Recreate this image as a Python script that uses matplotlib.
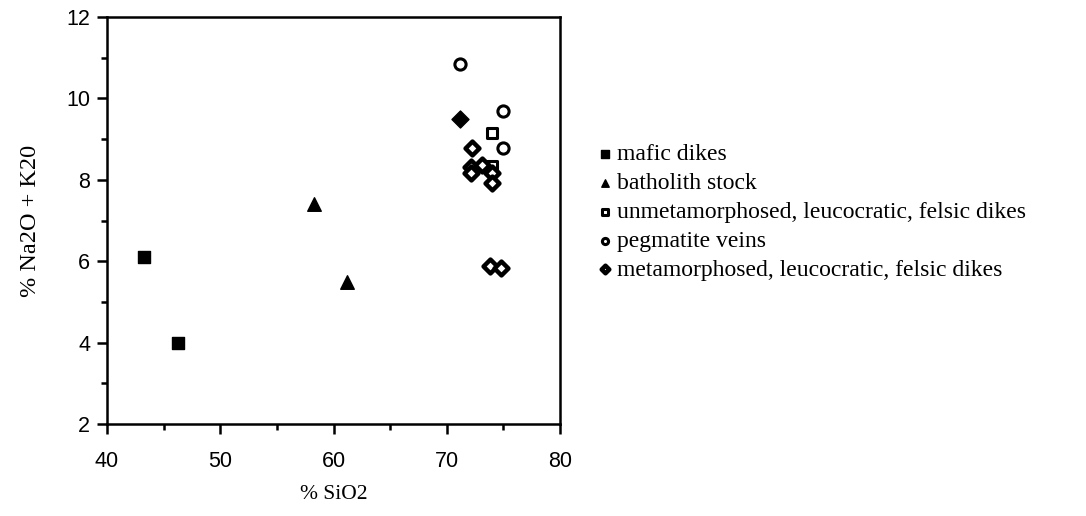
import numpy as np
import matplotlib
matplotlib.use("Agg")
import matplotlib.pyplot as plt
from matplotlib.ticker import MultipleLocator

# SiO2 (%) and Na2O + K2O (%) per rock group
mafic_x = [43.3, 46.3]
mafic_y = [6.1, 4.0]
batho_x = [58.3, 61.2]
batho_y = [7.4, 5.5]
unmeta_x = [74.0, 74.0]
unmeta_y = [9.15, 8.35]
pegma_x = [71.2, 75.0, 75.0]
pegma_y = [10.85, 9.7, 8.78]
meta_x = [71.2, 72.2, 72.1, 72.1, 73.1, 74.0, 74.0, 73.8, 74.8]
meta_y = [9.5, 8.78, 8.31, 8.17, 8.36, 8.17, 7.92, 5.88, 5.83]

labels = ["mafic dikes", "batholith stock",
          "unmetamorphosed, leucocratic, felsic dikes",
          "pegmatite veins",
          "metamorphosed, leucocratic, felsic dikes"]

serif = ["Liberation Serif", "DejaVu Serif"]
sans = ["Liberation Sans", "DejaVu Sans"]

fig = plt.figure(figsize=(10.86, 5.16), dpi=100)
ax = fig.add_axes([0.0985, 0.178, 0.4172, 0.789])

ax.scatter(mafic_x, mafic_y, marker="s", s=85, c="black", label=labels[0])
ax.scatter(batho_x, batho_y, marker="^", s=95, c="black", label=labels[1])
ax.scatter(unmeta_x, unmeta_y, marker="s", s=55, facecolors="white",
           edgecolors="black", linewidths=2.2, label=labels[2])
ax.scatter(pegma_x, pegma_y, marker="o", s=65, facecolors="white",
           edgecolors="black", linewidths=2.2, label=labels[3])
# first metamorphosed point is drawn solid, the rest as thick rings
ax.scatter(meta_x[:1], meta_y[:1], marker="D", s=75, c="black")
ax.scatter(meta_x[1:], meta_y[1:], marker="D", s=50, facecolors="white",
           edgecolors="black", linewidths=3.2, label=labels[4])

ax.set_xlim(40, 80)
ax.set_ylim(2, 12)
ax.xaxis.set_major_locator(MultipleLocator(10))
ax.xaxis.set_minor_locator(MultipleLocator(5))
ax.yaxis.set_major_locator(MultipleLocator(2))
ax.yaxis.set_minor_locator(MultipleLocator(1))
ax.tick_params(which="both", direction="out", width=1.8, top=False, right=False)
ax.tick_params(which="major", length=7, labelsize=15.5)
ax.tick_params(axis="x", which="major", pad=12)
ax.tick_params(axis="y", which="major", pad=5)
ax.tick_params(which="minor", length=4)
for lab in ax.get_xticklabels() + ax.get_yticklabels():
    lab.set_family(sans)
for sp in ax.spines.values():
    sp.set_linewidth(1.8)

ax.set_xlabel("% SiO2", family=serif, fontsize=15.5, labelpad=10)
ax.set_ylabel("% Na2O + K20", family=serif, fontsize=17.5, labelpad=18)

leg = ax.legend(loc="upper left", bbox_to_anchor=(1.057, 0.712), frameon=False,
                prop={"family": serif, "size": 17}, handletextpad=0.1,
                labelspacing=0.31, handlelength=0.8, markerscale=0.55,
                borderaxespad=0)

fig.savefig("out.png", dpi=100)
